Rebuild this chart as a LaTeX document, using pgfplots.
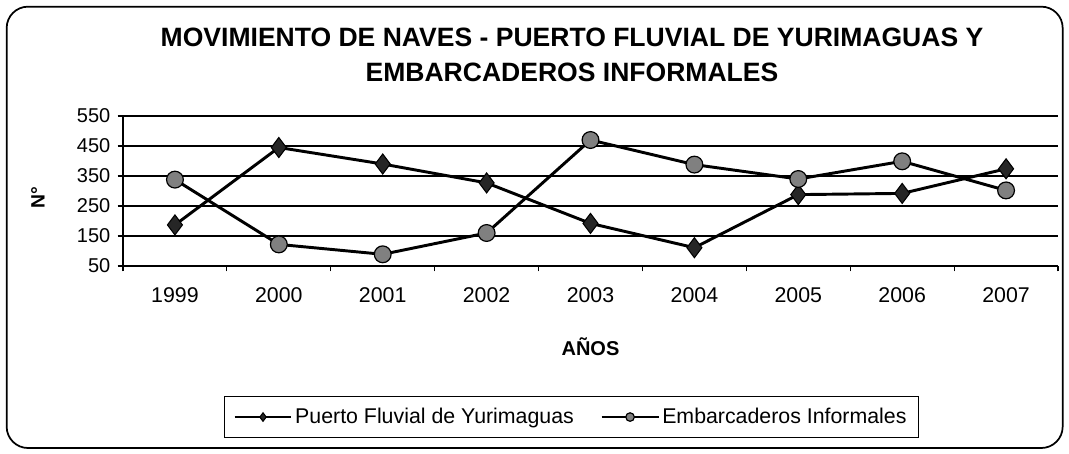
\documentclass[border=0pt]{standalone}
\usepackage{pgfplots}
\pgfplotsset{compat=1.18}
\usepackage{fontspec}
\setmainfont{Liberation Sans}
\begin{document}
\begin{tikzpicture}
\useasboundingbox (0,0) rectangle (801.75pt,-339.75pt);
\draw[line width=1.3pt, rounded corners=16pt] (5pt,-5pt) rectangle (797pt,-336pt);
\node[font=\bfseries\fontsize{19.9}{26.25}\selectfont, align=center] at (429pt,-41pt)
  {MOVIMIENTO DE NAVES - PUERTO FLUVIAL DE YURIMAGUAS Y\\EMBARCADEROS INFORMALES};
\node[font=\bfseries\fontsize{14.5}{16}\selectfont, rotate=90] at (28.5pt,-148pt) {N°};
\begin{axis}[
  at={(92.25pt,-199.5pt)}, anchor=south west,
  scale only axis, width=701.25pt, height=112.5pt,
  xmin=-0.5, xmax=8.5, ymin=50, ymax=550,
  axis x line*=bottom, axis y line*=left,
  axis line style={line width=1.3pt},
  xtick={0,...,8},
  xticklabels={1999,2000,2001,2002,2003,2004,2005,2006,2007},
  major x tick style={draw=none},
  minor xtick={-0.5,0.5,...,8.5},
  minor x tick style={line width=0.9pt, black},
  minor tick length=4pt,
  ytick={50,150,...,550},
  ytick style={line width=0.9pt, black},
  major tick length=4pt,
  tick align=outside,
  ymajorgrids,
  major grid style={line width=1.1pt, black},
  /pgf/number format/assume math mode=true,
  xticklabel style={font=\fontsize{16}{18}\selectfont, yshift=-9pt},
  yticklabel style={font=\fontsize{15}{17}\selectfont, xshift=-2pt},
  xlabel={\bfseries AÑOS},
  xlabel style={font=\fontsize{15}{17}\selectfont, at={(axis description cs:0.5,-0.54)}, anchor=center},
  legend columns=2,
  legend style={at={(axis description cs:0.4795,-1.007)}, anchor=center,
    draw=black, line width=0.9pt, font=\fontsize{16}{18}\selectfont,
    inner xsep=7pt, inner ysep=7pt,
    /tikz/every even column/.append style={column sep=18pt}},
  legend image code/.code={\draw[mark repeat=2,mark phase=2,#1, line width=1.6pt] plot coordinates {(0cm,0cm) (0.75cm,0cm) (1.5cm,0cm)};},
  legend image post style={mark size=3.2pt},
  clip=false,
]
\addplot[black, line width=2.2pt, mark=diamond*, mark size=7.5pt,
  mark options={fill=black!85, draw=black, line width=0.8pt}]
  coordinates {(0,187) (1,445) (2,390) (3,327) (4,192) (5,111) (6,288) (7,292) (8,374)};
\addlegendentry{Puerto Fluvial de Yurimaguas}
\addplot[black, line width=2.2pt, mark=*, mark size=6.3pt,
  mark options={fill=black!50, draw=black, line width=0.9pt}]
  coordinates {(0,338) (1,122) (2,89) (3,160) (4,470) (5,388) (6,340) (7,399) (8,302)};
\addlegendentry{Embarcaderos Informales}
\end{axis}
\end{tikzpicture}
\end{document}
